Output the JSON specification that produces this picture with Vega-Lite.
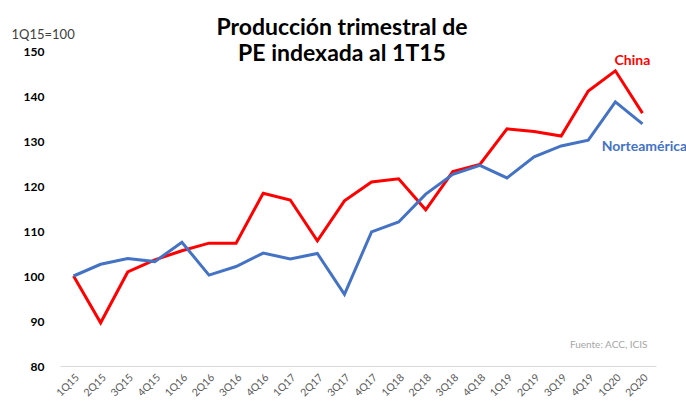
{
  "$schema": "https://vega.github.io/schema/vega-lite/v6.json",
  "width": 596,
  "height": 315,
  "autosize": "none",
  "padding": {"left": 60, "top": 51, "right": 30, "bottom": 39},
  "background": "white",
  "config": {"view": {"stroke": null}, "font": "Lato"},
  "title": {
    "text": ["Producción trimestral de", "PE indexada al 1T15"],
    "fontSize": 23,
    "fontWeight": "bold",
    "font": "Lato",
    "color": "#000000",
    "anchor": "middle",
    "frame": "group",
    "dx": -16,
    "offset": -38,
    "lineHeight": 26
  },
  "data": {
    "values": [
      {"q": "1Q15", "region": "China", "v": 100},
      {"q": "2Q15", "region": "China", "v": 89.6},
      {"q": "3Q15", "region": "China", "v": 100.9},
      {"q": "4Q15", "region": "China", "v": 103.6},
      {"q": "1Q16", "region": "China", "v": 105.6},
      {"q": "2Q16", "region": "China", "v": 107.3},
      {"q": "3Q16", "region": "China", "v": 107.3},
      {"q": "4Q16", "region": "China", "v": 118.4},
      {"q": "1Q17", "region": "China", "v": 116.9},
      {"q": "2Q17", "region": "China", "v": 107.8},
      {"q": "3Q17", "region": "China", "v": 116.7},
      {"q": "4Q17", "region": "China", "v": 120.9},
      {"q": "1Q18", "region": "China", "v": 121.6},
      {"q": "2Q18", "region": "China", "v": 114.7},
      {"q": "3Q18", "region": "China", "v": 123.2},
      {"q": "4Q18", "region": "China", "v": 124.8},
      {"q": "1Q19", "region": "China", "v": 132.7},
      {"q": "2Q19", "region": "China", "v": 132.1},
      {"q": "3Q19", "region": "China", "v": 131.1},
      {"q": "4Q19", "region": "China", "v": 141.1},
      {"q": "1Q20", "region": "China", "v": 145.6},
      {"q": "2Q20", "region": "China", "v": 136.2},
      {"q": "1Q15", "region": "Norteamérica", "v": 100},
      {"q": "2Q15", "region": "Norteamérica", "v": 102.6},
      {"q": "3Q15", "region": "Norteamérica", "v": 103.9},
      {"q": "4Q15", "region": "Norteamérica", "v": 103.2},
      {"q": "1Q16", "region": "Norteamérica", "v": 107.5},
      {"q": "2Q16", "region": "Norteamérica", "v": 100.2},
      {"q": "3Q16", "region": "Norteamérica", "v": 102.1},
      {"q": "4Q16", "region": "Norteamérica", "v": 105.1},
      {"q": "1Q17", "region": "Norteamérica", "v": 103.8},
      {"q": "2Q17", "region": "Norteamérica", "v": 105.0},
      {"q": "3Q17", "region": "Norteamérica", "v": 95.9},
      {"q": "4Q17", "region": "Norteamérica", "v": 109.8},
      {"q": "1Q18", "region": "Norteamérica", "v": 112.0},
      {"q": "2Q18", "region": "Norteamérica", "v": 118.2},
      {"q": "3Q18", "region": "Norteamérica", "v": 122.6},
      {"q": "4Q18", "region": "Norteamérica", "v": 124.6},
      {"q": "1Q19", "region": "Norteamérica", "v": 121.8},
      {"q": "2Q19", "region": "Norteamérica", "v": 126.5},
      {"q": "3Q19", "region": "Norteamérica", "v": 128.9},
      {"q": "4Q19", "region": "Norteamérica", "v": 130.2},
      {"q": "1Q20", "region": "Norteamérica", "v": 138.7},
      {"q": "2Q20", "region": "Norteamérica", "v": 133.8}
    ]
  },
  "layer": [
    {
      "mark": {"type": "line", "strokeWidth": 3, "strokeJoin": "miter"},
      "encoding": {
        "x": {
          "field": "q",
          "type": "ordinal",
          "sort": null,
          "scale": {"type": "point", "padding": 0.5},
          "axis": {
            "title": null,
            "labelAngle": -45,
            "labelFontSize": 10.5,
            "labelColor": "#595959",
            "labelPadding": 6,
            "ticks": false,
            "domainColor": "#d9d9d9",
            "domainWidth": 1,
            "grid": false
          }
        },
        "y": {
          "field": "v",
          "type": "quantitative",
          "scale": {"domain": [80, 150], "nice": false, "zero": false},
          "axis": {
            "title": "1Q15=100",
            "titleAngle": 0,
            "titleAlign": "left",
            "titleBaseline": "alphabetic",
            "titleX": -49,
            "titleY": -13,
            "titleFontSize": 13,
            "titleFontWeight": "normal",
            "titleColor": "#404040",
            "values": [80, 90, 100, 110, 120, 130, 140, 150],
            "labelFontWeight": "bold",
            "labelFontSize": 12,
            "labelColor": "#000000",
            "labelPadding": 16,
            "ticks": false,
            "domain": false,
            "grid": false
          }
        },
        "color": {
          "field": "region",
          "type": "nominal",
          "scale": {"domain": ["China", "Norteamérica"], "range": ["#FF0000", "#4472C4"]},
          "legend": null
        }
      }
    },
    {
      "transform": [{"filter": "datum.q === '2Q20' && datum.region === 'China'"}],
      "mark": {"type": "text", "fontWeight": "bold", "fontSize": 14, "dx": -10, "dy": -52, "color": "#FF0000"},
      "encoding": {
        "x": {"field": "q", "type": "ordinal", "sort": null},
        "y": {"field": "v", "type": "quantitative"},
        "text": {"field": "region"}
      }
    },
    {
      "transform": [{"filter": "datum.q === '2Q20' && datum.region === 'Norteamérica'"}],
      "mark": {"type": "text", "fontWeight": "bold", "fontSize": 14, "dx": 2, "dy": 23, "color": "#4472C4"},
      "encoding": {
        "x": {"field": "q", "type": "ordinal", "sort": null},
        "y": {"field": "v", "type": "quantitative"},
        "text": {"field": "region"}
      }
    },
    {
      "data": {"values": [{}]},
      "mark": {"type": "text", "align": "right", "baseline": "alphabetic", "dx": 5, "fontSize": 10, "color": "#a6a6a6"},
      "encoding": {
        "x": {"datum": "2Q20"},
        "y": {"datum": 84},
        "text": {"value": "Fuente: ACC, ICIS"}
      }
    }
  ]
}
